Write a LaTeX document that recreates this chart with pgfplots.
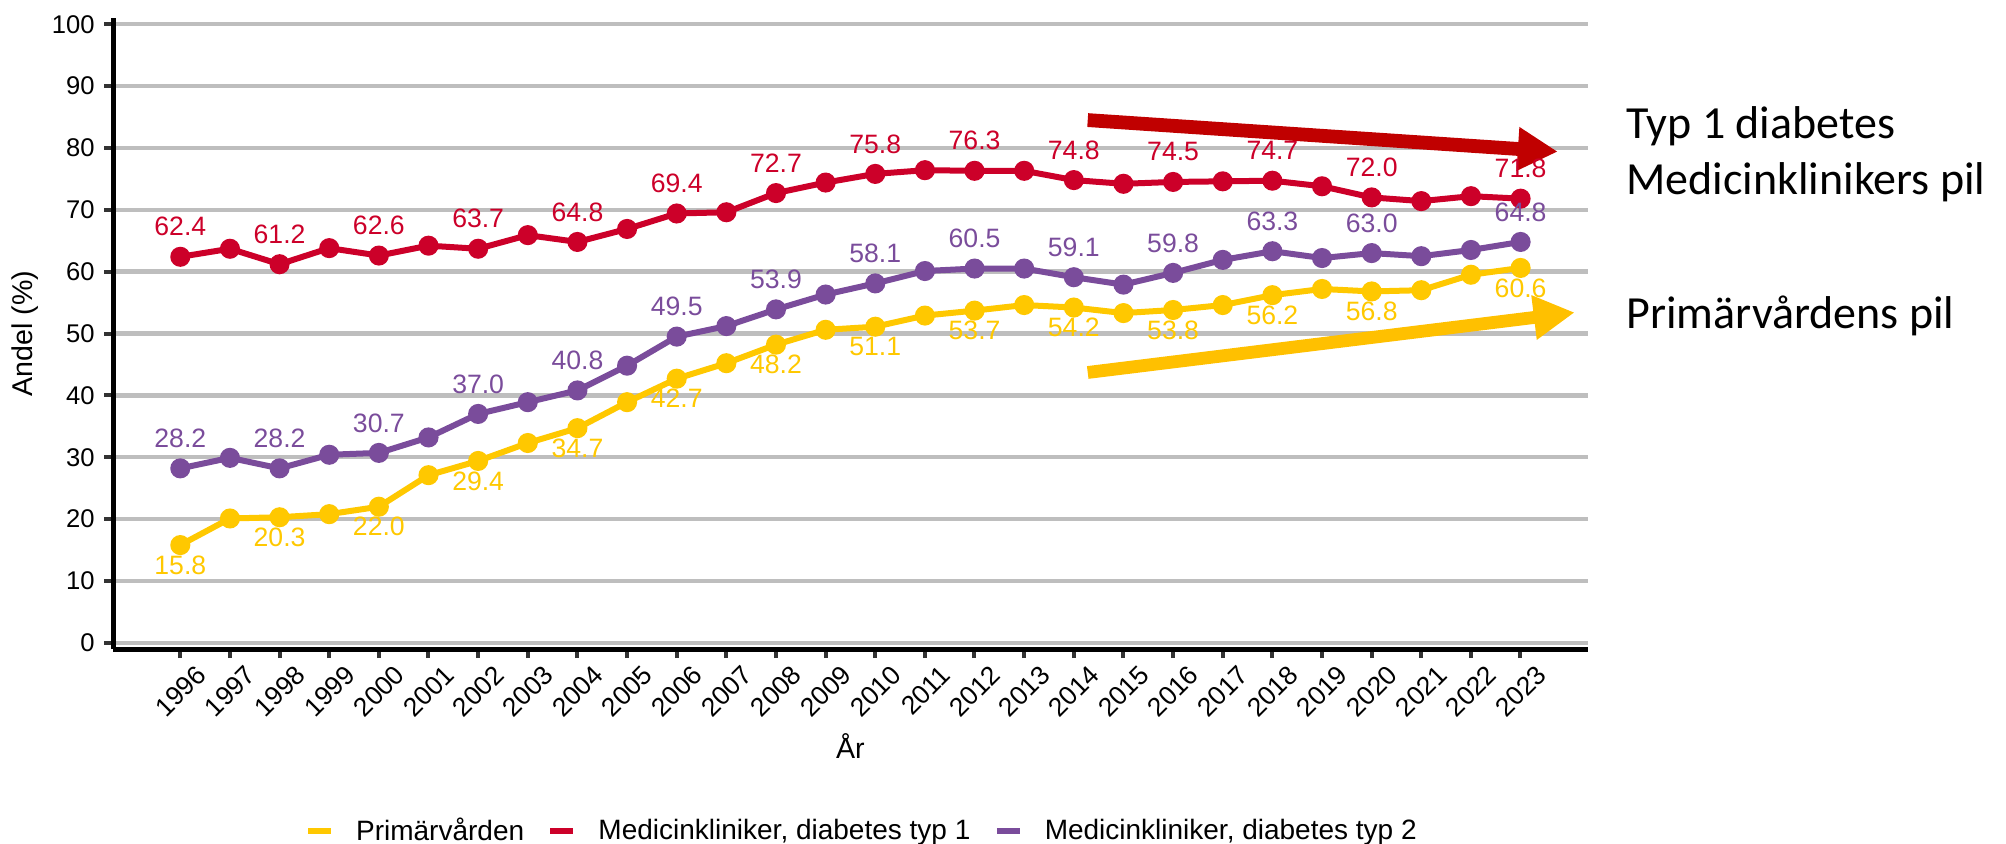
\documentclass[border=0pt]{standalone}
\usepackage{fontspec}
\setmainfont{Liberation Sans}
\newfontfamily\calibri{Carlito}
\usepackage{pgfplots}
\usepackage{pgfplotstable}
\pgfplotsset{compat=1.18}
\usetikzlibrary{arrows.meta}

\definecolor{t1red}{RGB}{204,0,41}
\definecolor{t2purple}{RGB}{122,76,155}
\definecolor{pvyellow}{RGB}{255,200,0}
\definecolor{arrowred}{RGB}{192,0,0}
\definecolor{arrowyellow}{RGB}{255,192,0}
\definecolor{gridgray}{RGB}{190,190,190}
\definecolor{tickgray}{RGB}{51,51,51}

% andel (%) per år
\pgfplotstableread{
year pv   t1   t2
1996 15.8 62.4 28.2
1997 20.1 63.7 29.9
1998 20.3 61.2 28.2
1999 20.8 63.8 30.4
2000 22.0 62.6 30.7
2001 27.1 64.2 33.2
2002 29.4 63.7 37.0
2003 32.3 65.9 38.9
2004 34.7 64.8 40.8
2005 38.9 66.9 44.8
2006 42.7 69.4 49.5
2007 45.2 69.6 51.2
2008 48.2 72.7 53.9
2009 50.6 74.4 56.3
2010 51.1 75.8 58.1
2011 52.9 76.4 60.1
2012 53.7 76.3 60.5
2013 54.6 76.3 60.5
2014 54.2 74.8 59.1
2015 53.3 74.2 57.9
2016 53.8 74.5 59.8
2017 54.6 74.6 61.9
2018 56.2 74.7 63.3
2019 57.2 73.8 62.2
2020 56.8 72.0 63.0
2021 57.0 71.4 62.5
2022 59.5 72.2 63.5
2023 60.6 71.8 64.8
}\datatable

% år som har etikett
\pgfplotstableread{
year pv   t1   t2
1996 15.8 62.4 28.2
1998 20.3 61.2 28.2
2000 22.0 62.6 30.7
2002 29.4 63.7 37.0
2004 34.7 64.8 40.8
2006 42.7 69.4 49.5
2008 48.2 72.7 53.9
2010 51.1 75.8 58.1
2012 53.7 76.3 60.5
2014 54.2 74.8 59.1
2016 53.8 74.5 59.8
2018 56.2 74.7 63.3
2020 56.8 72.0 63.0
2023 60.6 71.8 64.8
}\labeltable

\pgfplotsset{
  vlabel/.style={draw=none, mark=none, forget plot,
    nodes near coords={\pgfmathprintnumber[fixed,fixed zerofill,precision=1,assume math mode=true]{\pgfplotspointmeta}},
    every node near coord/.append style={anchor=center, inner sep=0pt,
      font=\fontsize{13.3}{15}\selectfont}},
}

\begin{document}
\begin{tikzpicture}
\useasboundingbox (0,0) rectangle (1003pt,421.5pt);
\begin{axis}[
  at={(56.65pt,97pt)}, anchor=south west,
  scale only axis, width=737.15pt, height=315.5pt,
  xmin=1994.65, xmax=2024.35, ymin=-1, ymax=101,
  axis x line*=bottom, axis y line*=left,
  axis line style={line width=2.5pt, -},
  xtick={1996,...,2023}, ytick={0,10,...,100},
  ymajorgrids, major grid style={line width=2.2pt, gridgray},
  tick align=outside, major tick length=4.6pt,
  tick style={line width=2pt, tickgray},
  /pgf/number format/assume math mode=true,
  /pgf/number format/1000 sep={},
  tick label style={font=\fontsize{12.8}{14}\selectfont, text=black},
  xticklabel style={font=\fontsize{13.2}{15}\selectfont, rotate=45, anchor=north east, inner sep=0pt, xshift=3.35pt, yshift=-6.75pt},
  yticklabel style={anchor=east, inner sep=0pt, xshift=-4.55pt},
  xlabel={År}, ylabel={Andel (\%)},
  label style={font=\fontsize{14.3}{16}\selectfont},
  xlabel style={at={(axis description cs:0.5,0)}, anchor=base, yshift=-54.65pt},
  ylabel style={at={(axis description cs:-0.0596,0.5)}, anchor=center},
  clip=false,
  legend columns=3,
  legend style={at={(axis description cs:0.507,-0.2884)}, anchor=center,
    draw=none, fill=none, font=\fontsize{14}{16}\selectfont,
    nodes={inner sep=0pt},
    /tikz/every even column/.append style={column sep=11.5pt}},
  legend image code/.code={
    \draw[line width=3.3pt] (0pt,0pt) -- (11.5pt,0pt);
    \path (22.5pt,0pt);},
]
\addplot[pvyellow, line width=3pt, mark=*, mark size=3.5pt] table[x=year,y=pv]{\datatable};
\addlegendentry{Primärvården}
\addplot[t1red, line width=3pt, mark=*, mark size=3.5pt] table[x=year,y=t1]{\datatable};
\addlegendentry{Medicinkliniker, diabetes typ 1}
\addplot[t2purple, line width=3pt, mark=*, mark size=3.5pt] table[x=year,y=t2]{\datatable};
\addlegendentry{Medicinkliniker, diabetes typ 2}

\addplot[vlabel, every node near coord/.append style={text=pvyellow, yshift=-10pt}] table[x=year,y=pv]{\labeltable};
\addplot[vlabel, every node near coord/.append style={text=t1red, yshift=15pt}] table[x=year,y=t1]{\labeltable};
\addplot[vlabel, every node near coord/.append style={text=t2purple, yshift=15pt}] table[x=year,y=t2]{\labeltable};

% pilar
\draw[arrowred, line width=6.9pt, -{Triangle[length=20pt,width=20.5pt]}]
  (axis cs:2014.28,84.5) -- (axis cs:2023.75,79.4);
\draw[arrowyellow, line width=6.4pt, -{Triangle[length=20.5pt,width=21pt]}]
  (axis cs:2014.28,43.7) -- (axis cs:2024.09,53.4);
\end{axis}

\node[anchor=base west, inner sep=0pt, font=\calibri\fontsize{23}{27}\selectfont] at (813pt,352.35pt) {Typ 1 diabetes};
\node[anchor=base west, inner sep=0pt, font=\calibri\fontsize{23}{27}\selectfont] at (813pt,324.35pt) {Medicinklinikers pil};
\node[anchor=base west, inner sep=0pt, font=\calibri\fontsize{23}{27}\selectfont] at (813pt,257.35pt) {Primärvårdens pil};
\end{tikzpicture}
\end{document}
